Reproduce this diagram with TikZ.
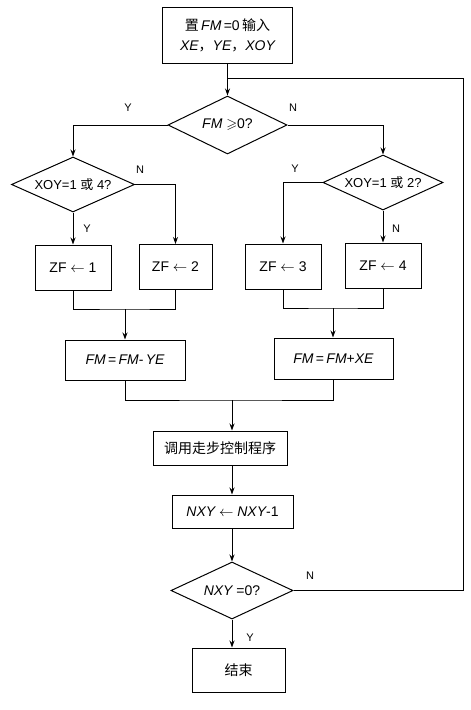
\documentclass[tikz,border=0pt]{standalone}
\usepackage{amssymb}
\usepackage{fontspec}
\setmainfont{Liberation Sans}
\newfontfamily\cjk{Noto Sans CJK SC}
\usetikzlibrary{shapes.geometric,arrows.meta}
\tikzset{
  every node/.style={font=\fontsize{14}{16}\selectfont},
  box/.style={draw,rectangle,line width=1pt,inner sep=0pt},
  dia/.style={draw,diamond,aspect=2.2,line width=1pt,inner sep=0pt},
  flow/.style={line width=0.9pt},
  arr/.style={flow,-{Stealth[length=7pt,width=5pt]}},
  lab/.style={font=\fontsize{11}{13}\selectfont}
}
\begin{document}
\begin{tikzpicture}[x=1pt,y=-1pt]
\useasboundingbox (0,0) rectangle (471,710);
% nodes
\node[box,minimum width=130,minimum height=56,align=center] (start) at (227.5,35)
  {\cjk 置\,\normalfont\itshape FM\upshape\,=0\,\cjk 输入\\[4pt]\itshape XE{\cjk ，}YE{\cjk ，}XOY};
\node[dia,minimum width=119,minimum height=58] (d1) at (227.5,125) {\itshape FM\upshape\ $\geqslant$0?};
\node[dia,minimum width=123,minimum height=55] (d2) at (73,184.5) {\fontsize{13}{15}\selectfont XOY=1 {\cjk 或} 4?};
\node[dia,minimum width=120,minimum height=55] (d3) at (383,182.5) {\fontsize{13}{15}\selectfont XOY=1 {\cjk 或} 2?};
\node[box,minimum width=76,minimum height=45] (b1) at (73,267.5) {ZF $\leftarrow$ 1};
\node[box,minimum width=73,minimum height=45] (b2) at (175.5,267) {ZF $\leftarrow$ 2};
\node[box,minimum width=76,minimum height=45] (b3) at (283,266.5) {ZF $\leftarrow$ 3};
\node[box,minimum width=76,minimum height=45] (b4) at (383,265.5) {ZF $\leftarrow$ 4};
\node[box,minimum width=120,minimum height=40] (f1) at (125,360) {\itshape FM\,\upshape=\,\itshape FM\upshape -\,\itshape YE};
\node[box,minimum width=119,minimum height=41] (f2) at (333.5,358.5) {\itshape FM\,\upshape=\,\itshape FM\upshape +\itshape XE};
\node[box,minimum width=134,minimum height=34] (call) at (220,448) {\cjk 调用走步控制程序};
\node[box,minimum width=121,minimum height=33] (nxy) at (232.5,511.5) {\itshape NXY\upshape\ $\leftarrow$ \itshape NXY\upshape -1};
\node[dia,minimum width=122,minimum height=57] (d4) at (232,590.5) {\itshape NXY\upshape\ =0?};
\node[box,minimum width=93,minimum height=44] (end) at (238.5,670) {\cjk 结束};
% coordinates
\coordinate (j0) at (227.5,78);
\coordinate (colx) at (232,0);
\coordinate (m1) at (125,309);
\coordinate (m2) at (333,308);
\coordinate (m3) at (232,400);
\coordinate (rx) at (463,0);
% labels
\node[lab] (ly1) at (128,108) {Y};
\node[lab] (ln1) at (293,108) {N};
\node[lab] (ln2) at (140,170) {N};
\node[lab] (ly2) at (87,229) {Y};
\node[lab] (ly3) at (295,169) {Y};
\node[lab] (ln3) at (396,229) {N};
\node[lab] (ln4) at (310,576) {N};
\node[lab] (ly4) at (250,638) {Y};
% connectors
\draw[arr] (start.south) -- (d1.north);
\draw[arr] (d1.west) -| (d2.north);
\draw[arr] (d1.east) -| (d3.north);
\draw[arr] (d2.south) -- (b1.north);
\draw[arr] (d2.east) -| (b2.north);
\draw[arr] (d3.west) -| (b3.north);
\draw[arr] (d3.south) -- (b4.north);
\draw[flow] (b1.south) |- (m1) -| (b2.south);
\draw[arr] (m1) -- (f1.north);
\draw[flow] (b3.south) |- (m2) -| (b4.south);
\draw[arr] (m2) -- (m2 |- f2.north);
\draw[flow] (f1.south) |- (m3) -| (f2.south);
\draw[arr] (m3) -- (m3 |- call.north);
\draw[arr] (call.south -| colx) -- (nxy.north -| colx);
\draw[arr] (nxy.south -| colx) -- (d4.north);
\draw[arr] (d4.south) -- (d4.south |- end.north);
\draw[flow] (d4.east) -- (d4.east -| rx) -- (j0 -| rx) -- (j0);
\end{tikzpicture}
\end{document}
